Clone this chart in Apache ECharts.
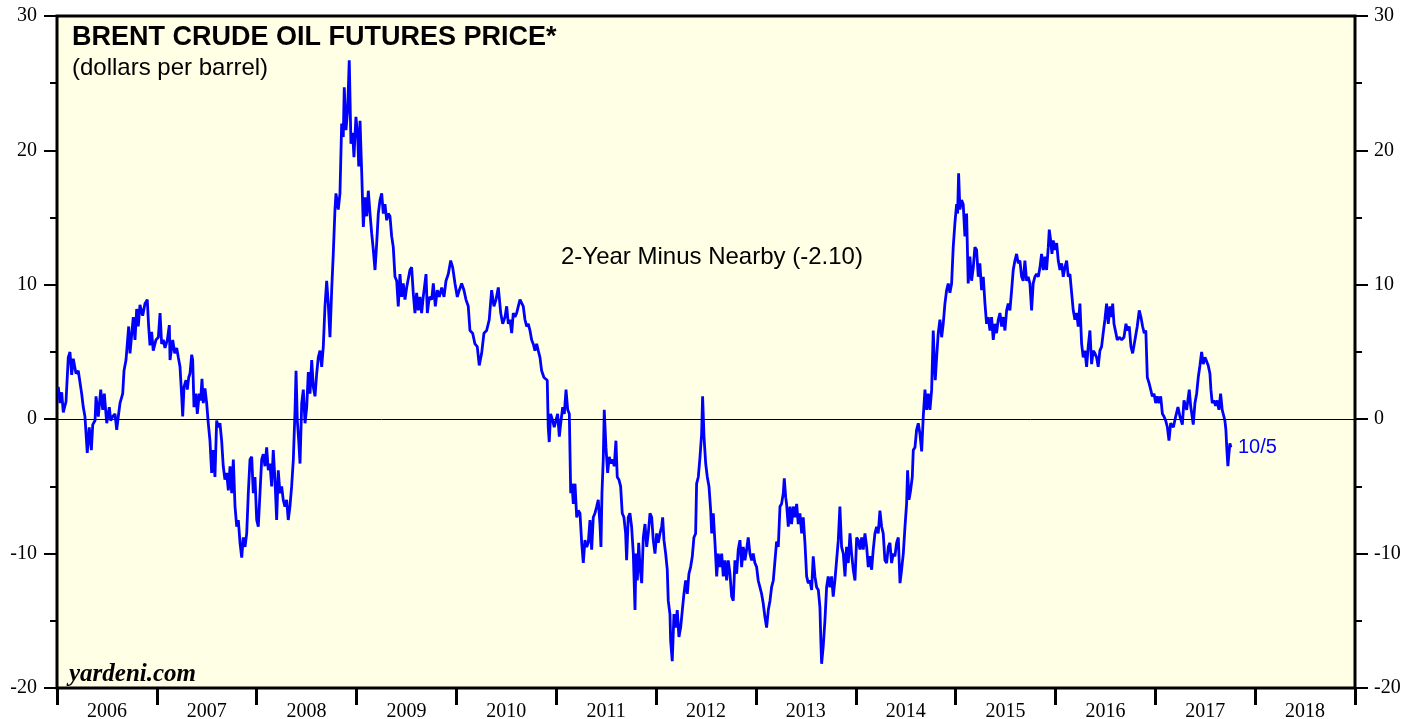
<!DOCTYPE html>
<html>
<head>
<meta charset="utf-8">
<script src="https://cdn.jsdelivr.net/npm/echarts@6/dist/echarts.min.js"></script>
<style>
  html, body { margin: 0; padding: 0; background: #fff; }
  #chart { width: 1419px; height: 719px; }
</style>
</head>
<body>
<div id="chart"></div>
<script>
// Brent crude: 2-year futures minus nearby futures, dollars per barrel
var yearLabels = ['2006', '2007', '2008', '2009', '2010', '2011', '2012', '2013', '2014', '2015', '2016', '2017', '2018'];
var yTicks = [-20, -10, 0, 10, 20, 30];

// [decimal year, spread]
var spread2006 = [[2006.013,2.4],[2006.030,1.2],[2006.047,2.0],[2006.063,0.5],[2006.090,1.3],[2006.113,4.6],[2006.130,5.0],[2006.147,3.3],[2006.163,4.5],[2006.190,3.4],[2006.213,3.6],[2006.247,1.9],[2006.263,0.9],[2006.280,0.2],[2006.303,-2.5],[2006.323,-0.6],[2006.344,-2.3],[2006.358,-0.4],[2006.381,-0.1],[2006.391,1.7],[2006.414,0.2],[2006.438,2.2],[2006.458,0.7],[2006.474,1.9],[2006.498,-0.3],[2006.524,0.9],[2006.538,-0.1],[2006.558,0.2],[2006.581,0.4],[2006.598,-0.8],[2006.614,0.2],[2006.631,1.2],[2006.658,1.9],[2006.671,3.6],[2006.691,4.4],[2006.704,5.6],[2006.718,6.9],[2006.731,4.9],[2006.748,4.9],[2006.764,7.6],[2006.781,5.9],[2006.798,8.2],[2006.814,6.9],[2006.831,8.5],[2006.858,7.7],[2006.881,8.6],[2006.904,8.9],[2006.918,6.9],[2006.931,5.5],[2006.948,6.5],[2006.964,5.1],[2006.991,5.9]];
var spread2007 = [[2007.015,6.1],[2007.032,7.9],[2007.048,5.6],[2007.065,5.9],[2007.082,5.3],[2007.105,5.9],[2007.125,7.0],[2007.132,4.4],[2007.159,5.9],[2007.179,4.9],[2007.199,5.3],[2007.215,4.6],[2007.232,3.9],[2007.249,1.7],[2007.259,0.2],[2007.272,2.4],[2007.292,2.9],[2007.305,2.2],[2007.319,3.1],[2007.332,3.4],[2007.349,4.8],[2007.359,4.4],[2007.372,0.9],[2007.392,1.9],[2007.405,0.4],[2007.425,1.9],[2007.439,1.4],[2007.452,3.0],[2007.465,1.2],[2007.482,2.3],[2007.499,1.2],[2007.515,-0.3],[2007.532,-1.6],[2007.549,-4.0],[2007.565,-2.3],[2007.582,-4.3],[2007.599,-0.1],[2007.615,-0.6],[2007.632,-0.3],[2007.649,-1.6],[2007.665,-3.5],[2007.682,-4.5],[2007.699,-4.0],[2007.716,-5.3],[2007.733,-3.5],[2007.750,-5.5],[2007.766,-3.0],[2007.783,-6.5],[2007.800,-8.0],[2007.816,-7.5],[2007.833,-9.2],[2007.850,-10.3],[2007.866,-8.8],[2007.883,-9.5],[2007.900,-8.5],[2007.916,-5.5],[2007.933,-3.0],[2007.950,-2.8],[2007.966,-5.5],[2007.983,-4.3]];
var spread2008 = [[2008.000,-7.5],[2008.016,-8.0],[2008.033,-5.5],[2008.050,-3.0],[2008.066,-2.6],[2008.083,-3.5],[2008.100,-2.1],[2008.116,-3.8],[2008.133,-3.3],[2008.150,-5.0],[2008.166,-2.3],[2008.183,-4.5],[2008.200,-7.5],[2008.216,-3.8],[2008.233,-5.5],[2008.250,-5.0],[2008.266,-6.0],[2008.283,-6.5],[2008.300,-6.0],[2008.316,-7.5],[2008.333,-6.5],[2008.350,-5.0],[2008.367,-3.0],[2008.384,0.7],[2008.394,3.6],[2008.407,-0.1],[2008.421,-1.6],[2008.434,-3.3],[2008.451,1.2],[2008.467,2.2],[2008.484,-0.3],[2008.501,0.9],[2008.517,3.5],[2008.534,1.9],[2008.551,4.4],[2008.567,2.4],[2008.584,1.7],[2008.601,3.4],[2008.617,4.6],[2008.634,5.1],[2008.651,3.9],[2008.667,5.4],[2008.684,8.4],[2008.701,10.3],[2008.717,8.6],[2008.734,6.1],[2008.751,9.6],[2008.767,12.3],[2008.784,15.6],[2008.794,16.8],[2008.817,15.6],[2008.834,16.8],[2008.851,22.0],[2008.867,21.0],[2008.877,24.7],[2008.894,21.5],[2008.911,23.0],[2008.927,26.7],[2008.944,20.5],[2008.961,21.3],[2008.974,19.5],[2008.994,22.5]];
var spread2009 = [[2009.012,21.0],[2009.022,18.8],[2009.035,22.2],[2009.052,18.3],[2009.068,14.3],[2009.085,16.5],[2009.102,15.1],[2009.118,17.0],[2009.135,15.3],[2009.152,13.8],[2009.168,12.6],[2009.185,11.1],[2009.202,13.1],[2009.218,15.3],[2009.235,16.3],[2009.252,16.8],[2009.268,15.3],[2009.285,16.0],[2009.302,14.8],[2009.318,15.3],[2009.335,15.1],[2009.352,13.6],[2009.368,12.8],[2009.385,10.6],[2009.402,10.3],[2009.418,8.4],[2009.435,10.8],[2009.452,9.1],[2009.468,10.1],[2009.485,8.9],[2009.502,9.8],[2009.535,11.1],[2009.552,11.3],[2009.568,9.4],[2009.585,7.9],[2009.602,9.4],[2009.618,8.1],[2009.635,9.1],[2009.652,7.9],[2009.668,9.1],[2009.696,10.8],[2009.709,7.9],[2009.729,9.1],[2009.753,8.9],[2009.769,10.1],[2009.789,8.4],[2009.809,9.6],[2009.829,9.1],[2009.853,9.8],[2009.876,9.1],[2009.896,10.3],[2009.919,10.8],[2009.943,11.8],[2009.963,11.3],[2009.986,10.1]];
var spread2010 = [[2010.009,9.1],[2010.029,9.6],[2010.053,10.1],[2010.076,9.6],[2010.096,8.9],[2010.119,8.4],[2010.136,6.6],[2010.163,6.4],[2010.186,5.6],[2010.209,5.4],[2010.229,4.0],[2010.253,4.9],[2010.276,6.4],[2010.303,6.6],[2010.329,7.4],[2010.353,9.6],[2010.376,8.4],[2010.397,8.9],[2010.420,9.8],[2010.444,7.9],[2010.464,7.1],[2010.487,7.6],[2010.504,8.4],[2010.520,7.1],[2010.537,7.4],[2010.554,6.4],[2010.570,7.9],[2010.587,7.6],[2010.604,7.9],[2010.620,8.4],[2010.637,8.9],[2010.654,8.9],[2010.670,8.4],[2010.687,7.4],[2010.704,6.9],[2010.720,7.1],[2010.737,6.6],[2010.754,5.9],[2010.770,5.6],[2010.787,5.1],[2010.804,5.6],[2010.820,5.1],[2010.837,4.6],[2010.854,3.6],[2010.877,3.1],[2010.897,3.1],[2010.910,2.9],[2010.920,-0.6],[2010.930,-1.7],[2010.944,0.4],[2010.964,-0.1],[2010.980,-0.6],[2010.997,-0.1]];
var spread2011 = [[2011.014,0.4],[2011.031,-1.3],[2011.048,-0.1],[2011.065,0.9],[2011.081,0.4],[2011.098,2.2],[2011.115,0.7],[2011.131,0.4],[2011.145,-5.5],[2011.158,-4.8],[2011.171,-6.3],[2011.188,-4.8],[2011.205,-7.3],[2011.221,-6.8],[2011.238,-7.0],[2011.255,-9.2],[2011.271,-10.7],[2011.288,-9.0],[2011.305,-9.5],[2011.321,-9.2],[2011.338,-7.5],[2011.355,-9.7],[2011.371,-7.3],[2011.388,-7.0],[2011.405,-6.5],[2011.421,-6.0],[2011.438,-7.8],[2011.448,-9.5],[2011.458,-5.5],[2011.471,-3.0],[2011.481,0.7],[2011.498,-2.1],[2011.515,-4.0],[2011.531,-2.8],[2011.548,-3.3],[2011.565,-3.0],[2011.581,-3.5],[2011.598,-1.6],[2011.611,-4.3],[2011.628,-4.5],[2011.645,-5.0],[2011.661,-7.0],[2011.678,-7.3],[2011.695,-8.5],[2011.705,-10.5],[2011.721,-7.3],[2011.738,-7.0],[2011.755,-8.0],[2011.772,-10.0],[2011.789,-14.2],[2011.799,-10.0],[2011.812,-12.0],[2011.826,-9.2],[2011.839,-11.0],[2011.856,-12.2],[2011.872,-8.8],[2011.889,-7.8],[2011.906,-9.5],[2011.922,-8.5],[2011.939,-7.0],[2011.956,-7.3],[2011.972,-9.0],[2011.989,-10.0]];
var spread2012 = [[2012.006,-8.5],[2012.022,-9.2],[2012.039,-8.5],[2012.056,-8.0],[2012.066,-7.3],[2012.079,-9.0],[2012.096,-10.0],[2012.112,-11.2],[2012.122,-13.5],[2012.139,-14.5],[2012.146,-16.5],[2012.162,-18.0],[2012.179,-14.5],[2012.196,-15.5],[2012.212,-14.2],[2012.229,-16.2],[2012.246,-15.5],[2012.263,-14.2],[2012.279,-13.0],[2012.296,-12.0],[2012.313,-13.0],[2012.329,-11.5],[2012.346,-11.0],[2012.363,-10.2],[2012.379,-8.8],[2012.396,-8.5],[2012.406,-4.8],[2012.423,-4.3],[2012.440,-2.8],[2012.456,-1.1],[2012.466,1.7],[2012.480,-1.3],[2012.497,-3.3],[2012.513,-4.3],[2012.530,-5.0],[2012.547,-6.8],[2012.557,-8.5],[2012.573,-7.0],[2012.590,-9.2],[2012.607,-11.7],[2012.623,-10.0],[2012.640,-11.0],[2012.657,-10.0],[2012.673,-11.7],[2012.690,-10.5],[2012.707,-12.0],[2012.723,-10.5],[2012.740,-11.5],[2012.757,-13.2],[2012.773,-13.5],[2012.790,-10.5],[2012.807,-11.5],[2012.823,-9.7],[2012.840,-9.0],[2012.857,-11.0],[2012.873,-9.5],[2012.890,-10.5],[2012.907,-9.7],[2012.923,-8.8],[2012.940,-10.0],[2012.957,-10.5],[2012.973,-10.0],[2012.990,-10.7]];
var spread2013 = [[2013.007,-11.0],[2013.023,-12.0],[2013.040,-12.5],[2013.057,-13.0],[2013.073,-13.7],[2013.090,-14.7],[2013.107,-15.5],[2013.124,-14.2],[2013.141,-13.5],[2013.157,-12.5],[2013.174,-12.0],[2013.191,-10.5],[2013.207,-9.1],[2013.224,-9.5],[2013.241,-6.5],[2013.257,-6.3],[2013.274,-5.5],[2013.284,-4.4],[2013.298,-5.8],[2013.307,-6.3],[2013.324,-8.0],[2013.341,-6.5],[2013.357,-7.8],[2013.374,-6.5],[2013.391,-7.3],[2013.408,-6.3],[2013.424,-7.8],[2013.441,-7.0],[2013.458,-8.5],[2013.474,-7.3],[2013.491,-9.2],[2013.508,-11.7],[2013.524,-12.2],[2013.541,-12.0],[2013.558,-12.7],[2013.574,-10.2],[2013.591,-11.7],[2013.608,-12.5],[2013.625,-12.7],[2013.641,-14.0],[2013.651,-16.7],[2013.658,-18.2],[2013.674,-16.9],[2013.691,-15.0],[2013.708,-12.5],[2013.724,-11.7],[2013.741,-12.5],[2013.758,-11.7],[2013.774,-13.2],[2013.791,-12.0],[2013.808,-10.5],[2013.825,-9.0],[2013.841,-6.5],[2013.858,-9.5],[2013.875,-10.0],[2013.892,-11.7],[2013.908,-9.5],[2013.925,-10.7],[2013.942,-8.5],[2013.958,-10.0],[2013.975,-11.2],[2013.992,-12.0]];
var spread2014 = [[2014.009,-8.8],[2014.025,-9.0],[2014.042,-9.7],[2014.059,-8.8],[2014.075,-9.7],[2014.092,-8.5],[2014.109,-9.5],[2014.125,-11.0],[2014.142,-10.2],[2014.159,-11.2],[2014.175,-9.7],[2014.192,-8.5],[2014.209,-8.0],[2014.225,-8.5],[2014.242,-6.8],[2014.259,-8.0],[2014.275,-8.5],[2014.292,-10.5],[2014.309,-10.7],[2014.326,-9.5],[2014.342,-9.2],[2014.359,-10.7],[2014.376,-10.0],[2014.392,-10.2],[2014.409,-9.2],[2014.426,-8.8],[2014.443,-12.2],[2014.459,-11.2],[2014.476,-10.0],[2014.493,-8.0],[2014.509,-6.3],[2014.519,-3.8],[2014.533,-6.0],[2014.549,-5.3],[2014.566,-4.3],[2014.576,-2.3],[2014.593,-2.1],[2014.609,-0.8],[2014.626,-0.3],[2014.643,-1.1],[2014.660,-2.4],[2014.676,0.2],[2014.693,2.2],[2014.710,0.7],[2014.726,1.9],[2014.743,0.7],[2014.760,2.2],[2014.776,6.6],[2014.786,4.4],[2014.796,2.9],[2014.810,4.6],[2014.826,6.4],[2014.843,7.4],[2014.860,6.1],[2014.876,7.1],[2014.893,8.6],[2014.910,9.6],[2014.926,10.1],[2014.943,9.4],[2014.960,10.1],[2014.976,12.8],[2014.993,14.6]];
var spread2015 = [[2015.010,16.0],[2015.020,15.3],[2015.030,18.3],[2015.043,15.6],[2015.060,16.3],[2015.076,16.0],[2015.093,13.6],[2015.110,15.3],[2015.126,10.1],[2015.143,12.1],[2015.160,10.3],[2015.177,11.3],[2015.193,12.8],[2015.210,12.6],[2015.227,10.6],[2015.243,11.6],[2015.260,9.6],[2015.277,10.6],[2015.294,8.6],[2015.310,7.1],[2015.327,7.6],[2015.344,6.6],[2015.360,7.6],[2015.377,5.9],[2015.394,7.1],[2015.410,6.4],[2015.427,7.4],[2015.444,7.9],[2015.461,6.9],[2015.477,7.6],[2015.494,6.6],[2015.511,8.1],[2015.527,8.6],[2015.544,8.1],[2015.561,9.6],[2015.577,11.1],[2015.594,11.8],[2015.611,12.3],[2015.627,11.6],[2015.644,11.8],[2015.661,10.6],[2015.677,10.3],[2015.694,11.8],[2015.711,10.3],[2015.727,10.6],[2015.744,10.1],[2015.761,8.1],[2015.777,10.1],[2015.794,10.6],[2015.811,10.8],[2015.828,10.6],[2015.845,11.3],[2015.861,12.3],[2015.878,11.1],[2015.895,12.1],[2015.911,11.1],[2015.928,12.8],[2015.938,14.1],[2015.952,13.3],[2015.965,12.3],[2015.978,13.3],[2015.995,12.6]];
var spread2016 = [[2016.012,13.1],[2016.028,11.8],[2016.045,11.1],[2016.062,11.6],[2016.078,10.6],[2016.095,11.3],[2016.112,11.8],[2016.128,10.6],[2016.145,10.8],[2016.162,9.4],[2016.178,8.1],[2016.195,7.4],[2016.212,7.9],[2016.228,6.9],[2016.245,8.6],[2016.262,5.6],[2016.278,4.6],[2016.295,5.1],[2016.312,3.9],[2016.328,5.4],[2016.345,6.6],[2016.362,4.1],[2016.378,5.1],[2016.395,4.9],[2016.412,4.6],[2016.428,3.9],[2016.445,5.1],[2016.462,5.4],[2016.478,6.4],[2016.495,7.4],[2016.512,8.6],[2016.529,7.1],[2016.546,8.4],[2016.562,7.6],[2016.573,8.6],[2016.586,7.1],[2016.606,7.1],[2016.619,5.9],[2016.639,6.1],[2016.663,5.9],[2016.686,6.1],[2016.706,7.1],[2016.723,6.6],[2016.739,6.9],[2016.756,5.4],[2016.773,4.9],[2016.796,5.9],[2016.819,6.9],[2016.839,8.1],[2016.856,7.6],[2016.873,6.9],[2016.889,6.4],[2016.905,6.6],[2016.920,3.1],[2016.937,2.7],[2016.954,2.2],[2016.970,1.7],[2016.987,1.9]];
var spread2017 = [[2017.004,1.2],[2017.020,1.7],[2017.037,1.2],[2017.054,1.7],[2017.071,0.4],[2017.087,0.2],[2017.104,-0.1],[2017.121,-0.6],[2017.137,-1.6],[2017.154,-0.3],[2017.181,-0.6],[2017.204,0.2],[2017.227,0.9],[2017.247,0.2],[2017.271,-0.4],[2017.287,1.4],[2017.314,0.7],[2017.324,0.7],[2017.340,2.2],[2017.354,1.0],[2017.380,-0.4],[2017.397,1.2],[2017.414,1.9],[2017.430,3.1],[2017.447,4.0],[2017.464,5.0],[2017.480,4.1],[2017.497,4.6],[2017.514,4.3],[2017.530,4.0],[2017.547,3.4],[2017.557,2.2],[2017.570,1.2],[2017.587,1.4],[2017.604,1.0],[2017.620,1.4],[2017.637,0.7],[2017.654,1.9],[2017.670,0.7],[2017.687,0.2],[2017.697,-0.1],[2017.707,-0.8],[2017.717,-2.3],[2017.727,-3.5],[2017.737,-2.6],[2017.747,-1.8],[2017.757,-2.1]];

var lastDate = '10/5';

var spread = [].concat(spread2006, spread2007, spread2008, spread2009, spread2010, spread2011,
    spread2012, spread2013, spread2014, spread2015, spread2016, spread2017);

var sansFont = '"Liberation Sans", Arial, Helvetica, sans-serif';
var serifFont = '"Liberation Serif", "Times New Roman", serif';

function yAxisSide(side) {
    return {
        type: 'value',
        position: side,
        min: yTicks[0],
        max: yTicks[yTicks.length - 1],
        interval: 10,
        axisLine: { show: false },
        axisTick: { show: true, length: 13, lineStyle: { color: '#000', width: 2 } },
        minorTick: { show: true, splitNumber: 2, length: 7, lineStyle: { color: '#000', width: 2 } },
        splitLine: { show: false },
        axisLabel: {
            color: '#000',
            fontFamily: serifFont,
            fontSize: 20,
            margin: side == 'left' ? 20 : 19
        }
    };
}

var chart = echarts.init(document.getElementById('chart'));
var option = {
    animation: false,
    backgroundColor: '#fff',
    grid: {
        left: 57, right: 64, top: 16, bottom: 31,
        show: true,
        backgroundColor: '#FFFFE5',
        borderColor: '#000',
        borderWidth: 3,
        outerBoundsMode: 'none'
    },
    xAxis: [
        {
            type: 'value',
            min: 2006,
            max: 2019,
            show: false
        },
        {
            type: 'category',
            data: yearLabels,
            position: 'bottom',
            boundaryGap: true,
            axisLine: { show: false, onZero: false },
            axisTick: { show: true, length: 17, interval: 0, lineStyle: { color: '#000', width: 3 } },
            axisLabel: {
                interval: 0,
                color: '#000',
                fontFamily: serifFont,
                fontSize: 20,
                margin: 14
            }
        }
    ],
    yAxis: [yAxisSide('left'), yAxisSide('right')],
    graphic: [
        {
            type: 'text', left: 72, top: 24,
            style: { text: 'BRENT CRUDE OIL FUTURES PRICE*', fill: '#000', font: 'bold 27px ' + sansFont }
        },
        {
            type: 'text', left: 72, top: 56,
            style: { text: '(dollars per barrel)', fill: '#000', font: '24px ' + sansFont }
        },
        {
            type: 'text', left: 561, top: 245,
            style: { text: '2-Year Minus Nearby (-2.10)', fill: '#000', font: '24px ' + sansFont }
        },
        {
            type: 'text', left: 69, top: 662,
            style: { text: 'yardeni.com', fill: '#000', font: 'italic bold 25px ' + serifFont }
        }
    ],
    series: [
        {
            type: 'line',
            xAxisIndex: 0,
            yAxisIndex: 0,
            data: spread,
            showSymbol: false,
            symbol: 'none',
            lineStyle: { color: '#0000FF', width: 2.8 },
            endLabel: {
                show: true,
                formatter: lastDate,
                color: '#0000FF',
                fontFamily: sansFont,
                fontSize: 20,
                distance: 7
            },
            markLine: {
                silent: true,
                symbol: 'none',
                label: { show: false },
                lineStyle: { color: '#000', width: 1, type: 'solid' },
                data: [{ yAxis: 0 }]
            },
            z: 3
        }
    ]
};
chart.setOption(option);
</script>
</body>
</html>
